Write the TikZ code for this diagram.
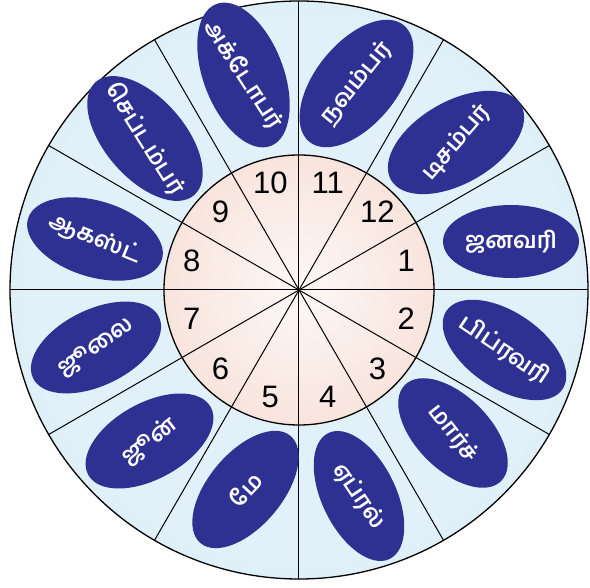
\documentclass[tikz,border=0pt]{standalone}
\usepackage{fontspec}
\setmainfont{Liberation Sans}
\newfontfamily\tamil[Script=Tamil]{Hind Madurai}
\usetikzlibrary{shapes.geometric}
\definecolor{monthblue}{RGB}{46,49,146}
\definecolor{ringout}{RGB}{178,216,238}
\definecolor{ringin}{RGB}{226,241,249}
\definecolor{faceout}{RGB}{243,208,196}
\definecolor{facein}{RGB}{253,248,246}
\pgfdeclareradialshading{ringshade}{\pgfpoint{0bp}{0bp}}{color(0bp)=(ringin); color(23bp)=(ringin); color(50bp)=(ringout)}
\pgfdeclareradialshading{faceshade}{\pgfpoint{0bp}{0bp}}{color(0bp)=(facein); color(50bp)=(faceout)}

\begin{document}
\begin{tikzpicture}[x=1pt,y=1pt,
  dial/.style={circle,draw,inner sep=0pt,outer sep=0pt,line width=1.3pt},
  spoke/.style={line width=1pt},
  num/.style={font=\fontsize{31}{31}\selectfont},
  month/.style={ellipse,fill=monthblue,inner sep=0pt,outer sep=0pt},
  mname/.style={text=white,inner sep=1pt,font={\tamil\bfseries\fontsize{23}{23}\selectfont}}]
\fill[white] (-299,-298) rectangle (291,290);
\useasboundingbox (-299,-298) rectangle (291,290);
% dial faces
\node[dial,minimum size=578pt,shading=ringshade] (rim) at (0,0) {};
\node[dial,minimum size=270pt,shading=faceshade] (face) at (0,0) {};
% spokes
\draw[spoke] (rim.0)--(rim.180);
\draw[spoke] (rim.30)--(rim.210);
\draw[spoke] (rim.60)--(rim.240);
\draw[spoke] (rim.90)--(rim.270);
\draw[spoke] (rim.120)--(rim.300);
\draw[spoke] (rim.150)--(rim.330);
% numbers
\node[num] (n1) at (15:111) {1};
\node[num] (n2) at (-15:111) {2};
\node[num] (n3) at (-45:111) {3};
\node[num] (n4) at (-75:111) {4};
\node[num] (n5) at (-105:111) {5};
\node[num] (n6) at (-135:111) {6};
\node[num] (n7) at (-165:111) {7};
\node[num] (n8) at (165:111) {8};
\node[num] (n9) at (135:111) {9};
\node[num] (n10) at (105:111) {10};
\node[num] (n11) at (75:111) {11};
\node[num] (n12) at (45:111) {12};
% months
\node[month,minimum width=136pt,minimum height=73pt] (jan) at (212,48.5) {};
\node[mname] at (jan) {ஜனவரி};
\node[month,minimum width=140pt,minimum height=76pt,rotate=-34] (feb) at (205.5,-60) {};
\node[mname,rotate=-34] at (feb) {பிப்ரவரி};
\node[month,minimum width=136pt,minimum height=74pt,rotate=-45] (mar) at (154,-143) {};
\node[mname,rotate=-52] at (mar) {மார்ச்};
\node[month,minimum width=140pt,minimum height=74pt,rotate=-64] (apr) at (60,-206) {};
\node[mname,rotate=-56] at (apr) {ஏப்ரல்};
\node[month,minimum width=140pt,minimum height=74pt,rotate=50] (may) at (-53.5,-199.5) {};
\node[mname,rotate=47] at (may) {மே};
\node[month,minimum width=140pt,minimum height=76pt,rotate=29] (jun) at (-149.5,-151) {};
\node[mname,rotate=38] at (jun) {ஜூன்};
\node[month,minimum width=140pt,minimum height=76pt,rotate=26] (jul) at (-203,-57.5) {};
\node[mname,rotate=34] at (jul) {ஜூலை};
\node[month,minimum width=140pt,minimum height=76pt,rotate=-17] (aug) at (-204,51) {};
\node[mname,rotate=-22] at (aug) {ஆகஸ்ட்};
\node[month,minimum width=150pt,minimum height=80pt,rotate=-49] (sep) at (-154,151.5) {};
\node[mname,rotate=-58] at (sep) {செப்டம்பர்};
\node[month,minimum width=152pt,minimum height=80pt,rotate=-69] (oct) at (-55.5,215) {};
\node[mname,rotate=-57] at (oct) {அக்டோபர்};
\node[month,minimum width=150pt,minimum height=82pt,rotate=51] (nov) at (57.5,206.5) {};
\node[mname,rotate=51] at (nov) {நவம்பர்};
\node[month,minimum width=150pt,minimum height=82pt,rotate=30] (dec) at (157,147.5) {};
\node[mname,rotate=49] at (dec) {டிசம்பர்};
\end{tikzpicture}
\end{document}
